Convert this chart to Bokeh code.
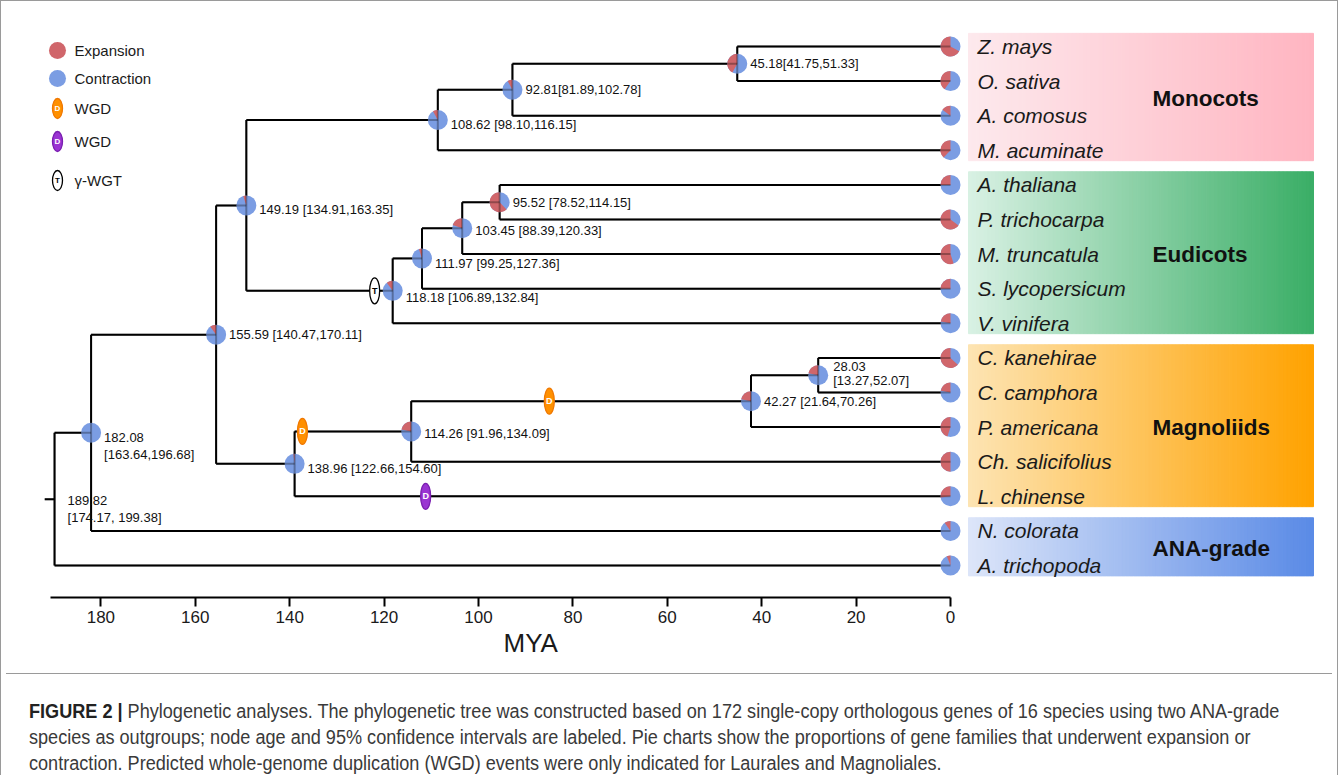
import math
from bokeh.plotting import figure
from bokeh.models import Range1d, FixedTicker, Div, Title
from bokeh.layouts import column
from bokeh.core.properties import value
from bokeh.embed import file_html
from bokeh.resources import INLINE

# ---------------- data ----------------
tips = ["Z. mays", "O. sativa", "A. comosus", "M. acuminate",
        "A. thaliana", "P. trichocarpa", "M. truncatula", "S. lycopersicum", "V. vinifera",
        "C. kanehirae", "C. camphora", "P. americana", "Ch. salicifolius", "L. chinense",
        "N. colorata", "A. trichopoda"]
tip_expansion = [0.67, 0.40, 0.15, 0.38,
                 0.25, 0.65, 0.55, 0.25, 0.22,
                 0.63, 0.22, 0.45, 0.50, 0.27,
                 0.10, 0.06]

node_ids = ["root", "n182", "n155", "n149", "n108", "n92", "n45",
            "n118", "n111", "n103", "n95", "n138", "n114", "n42", "n28"]
node_age = [189.82, 182.08, 155.59, 149.19, 108.62, 92.81, 45.18,
            118.18, 111.97, 103.45, 95.52, 138.96, 114.26, 42.27, 28.03]
node_children = [("n182", "A. trichopoda"), ("n155", "N. colorata"), ("n149", "n138"),
                 ("n108", "n118"), ("n92", "M. acuminate"), ("n45", "A. comosus"),
                 ("Z. mays", "O. sativa"), ("n111", "V. vinifera"), ("n103", "S. lycopersicum"),
                 ("n95", "M. truncatula"), ("A. thaliana", "P. trichocarpa"),
                 ("n114", "L. chinense"), ("n42", "Ch. salicifolius"), ("n28", "P. americana"),
                 ("C. kanehirae", "C. camphora")]
node_label = ["189.82\n[174.17, 199.38]", "182.08\n[163.64,196.68]", "155.59 [140.47,170.11]",
              "149.19 [134.91,163.35]", "108.62 [98.10,116.15]", "92.81[81.89,102.78]",
              "45.18[41.75,51.33]", "118.18 [106.89,132.84]", "111.97 [99.25,127.36]",
              "103.45 [88.39,120.33]", "95.52 [78.52,114.15]", "138.96 [122.66,154.60]",
              "114.26 [91.96,134.09]", "42.27 [21.64,70.26]", "28.03\n[13.27,52.07]"]
node_expansion = [None, 0.0, 0.10, 0.05, 0.08, 0.08, 0.42,
                  0.10, 0.05, 0.20, 0.62, 0.02, 0.22, 0.22, 0.22]
root_stem_age = 191.9

wgd_age = [137.3, 85.0, 111.2, 122.0]
wgd_branch = ["n114", "n42", "L. chinense", "n118"]
wgd_kind = ["WGD", "WGD", "WGD2", "WGT"]

clade_names = ["Monocots", "Eudicots", "Magnoliids", "ANA-grade"]
clade_first = ["Z. mays", "A. thaliana", "C. kanehirae", "N. colorata"]
clade_last = ["M. acuminate", "V. vinifera", "L. chinense", "A. trichopoda"]

legend_labels = ["Expansion", "Contraction", "WGD", "WGD", "\u03b3-WGT"]
legend_kinds = ["EXP", "CON", "WGD", "WGD2", "WGT"]

axis_ticks = [0, 20, 40, 60, 80, 100, 120, 140, 160, 180]
axis_title = "MYA"

caption_head = "FIGURE 2 |"
caption_lines = [
    "Phylogenetic analyses. The phylogenetic tree was constructed based on 172 single-copy orthologous genes of 16 species using two ANA-grade",
    "species as outgroups; node age and 95% confidence intervals are labeled. Pie charts show the proportions of gene families that underwent expansion or",
    "contraction. Predicted whole-genome duplication (WGD) events were only indicated for Laurales and Magnoliales.",
]

# ---------------- layout / style ----------------
X0_PX, PX_PER_MYA = 950.0, 4.72
Y0_PX, PX_PER_TIP = 46.0, 34.6
def px2mya(px):
    return (X0_PX - px) / PX_PER_MYA
def py2idx(py):
    return (py - Y0_PX) / PX_PER_TIP

ORIGIN = 0
FIG_W, BOTTOM = 1326, 71
FRAME_L, FRAME_T = ORIGIN + 1, ORIGIN + 1
FRAME_R, FRAME_B = FRAME_L + FIG_W, 597
FIG_H = FRAME_B - FRAME_T + BOTTOM
CAP_H = 104

RED = "#d0666b"
BLUE = "#7b9de3"
FONT = value("Liberation Sans")

clade_grad = {
    "Monocots": ("#fde9ed", "#ffb5c1"),
    "Eudicots": ("#d9f1e4", "#3aae66"),
    "Magnoliids": ("#fde4b3", "#ffa200"),
    "ANA-grade": ("#dde6f9", "#5a8ae6"),
}
wgd_style = {
    "WGD": ("#ff9000", "#f07800", "D", "white"),
    "WGD2": ("#9a34d2", "#7a1fb0", "D", "white"),
    "WGT": ("white", "black", "T", "black"),
}

# ---------------- tree geometry ----------------
ypos = {t: float(i) for i, t in enumerate(tips)}
age = {t: 0.0 for t in tips}
age.update(dict(zip(node_ids, node_age)))
children = dict(zip(node_ids, node_children))

def y_of(n):
    if n not in ypos:
        a, b = children[n]
        ypos[n] = (y_of(a) + y_of(b)) / 2.0
    return ypos[n]
for n in node_ids:
    y_of(n)

sx0, sy0, sx1, sy1 = [], [], [], []
for n in node_ids:
    a, b = children[n]
    sx0.append(age[n]); sy0.append(ypos[a]); sx1.append(age[n]); sy1.append(ypos[b])
    for c in (a, b):
        sx0.append(age[n]); sy0.append(ypos[c]); sx1.append(age[c]); sy1.append(ypos[c])
sx0.append(root_stem_age); sy0.append(ypos["root"]); sx1.append(age["root"]); sy1.append(ypos["root"])

p = figure(width=FIG_W, height=FIG_H, output_backend="svg", toolbar_location=None,
           x_range=Range1d(px2mya(FRAME_L), px2mya(FRAME_R)),
           y_range=Range1d(py2idx(FRAME_B), py2idx(FRAME_T)),
           y_axis_location=None, min_border=0, min_border_bottom=BOTTOM,
           background_fill_color="white", border_fill_color="white")
p.outline_line_color = None
p.xgrid.visible = False
p.ygrid.visible = False

# clade gradient boxes
box_l, box_r = px2mya(968), px2mya(1313)
NSTRIP = 90
for name, f, l in zip(clade_names, clade_first, clade_last):
    c1, c2 = clade_grad[name]
    r1, g1, b1 = int(c1[1:3], 16), int(c1[3:5], 16), int(c1[5:7], 16)
    r2, g2, b2 = int(c2[1:3], 16), int(c2[3:5], 16), int(c2[5:7], 16)
    lefts, rights, cols = [], [], []
    for i in range(NSTRIP):
        t = (i + 0.5) / NSTRIP
        lefts.append(box_l + (box_r - box_l) * i / NSTRIP)
        rights.append(box_l + (box_r - box_l) * (i + 1) / NSTRIP)
        cols.append("#%02x%02x%02x" % (round(r1 + (r2 - r1) * t), round(g1 + (g2 - g1) * t), round(b1 + (b2 - b1) * t)))
    top, bot = ypos[f] - 0.38, ypos[l] + 0.3
    p.quad(left=lefts, right=rights, top=[top] * NSTRIP, bottom=[bot] * NSTRIP,
           fill_color=cols, line_color=cols, line_width=1)
    p.text(x=[px2mya(1152)], y=[(ypos[f] + ypos[l]) / 2.0], text=[name],
           text_font=FONT, text_font_size="22.5px", text_font_style="bold",
           text_color="#111111", text_align="left", text_baseline="middle")

# tree lines
p.segment(x0=sx0, y0=sy0, x1=sx1, y1=sy1, line_color="black", line_width=2)

# pies
px_, py_, fr_ = [], [], []
for t, f in zip(tips, tip_expansion):
    px_.append(age[t]); py_.append(ypos[t]); fr_.append(f)
for n, f in zip(node_ids, node_expansion):
    if f is None:
        continue
    px_.append(age[n]); py_.append(ypos[n]); fr_.append(f)
p.scatter(x=px_, y=py_, size=20, marker="circle", fill_color=BLUE, line_color=None)
wx = [x for x, f in zip(px_, fr_) if f > 0]
wy = [y for y, f in zip(py_, fr_) if f > 0]
wf = [f for f in fr_ if f > 0]
p.wedge(x=wx, y=wy, radius=10, radius_units="screen",
        start_angle=[math.pi / 2] * len(wf),
        end_angle=[math.pi / 2 + 2 * math.pi * f for f in wf],
        direction="anticlock", fill_color=RED, line_color=None)
p.segment(x0=sx0, y0=sy0, x1=sx1, y1=sy1, line_color="black", line_width=2, line_alpha=0.3)

# WGD events
for a, br, k in zip(wgd_age, wgd_branch, wgd_kind):
    fc, lc, letter, tc = wgd_style[k]
    p.ellipse(x=[a], y=[ypos[br]], width=10, height=26, width_units="screen", height_units="screen",
              fill_color=fc, line_color=lc, line_width=1.3)
    p.text(x=[a], y=[ypos[br]], text=[letter], text_font=FONT, text_font_size="9px",
           text_font_style="bold", text_color=tc, text_align="center", text_baseline="middle")

# node labels
lab_dy = {"n108": 4, "n149": 4, "n111": 5, "n118": 7, "n138": 5, "n103": 2, "n114": 2}
two_dy = {"root": -6, "n182": -3, "n28": -16}
for n, lab in zip(node_ids, node_label):
    if "\n" in lab:
        p.text(x=[age[n]], y=[ypos[n]], text=[lab], x_offset=13 if n != "n28" else 15,
               y_offset=two_dy[n],
               text_font=FONT, text_font_size="13px", text_color="#111111",
               text_align="left", text_baseline="top",
               text_line_height=0.95 if n == "n28" else 1.15)
    else:
        p.text(x=[age[n]], y=[ypos[n]], text=[lab], x_offset=13, y_offset=lab_dy.get(n, 0),
               text_font=FONT, text_font_size="13px", text_color="#111111",
               text_align="left", text_baseline="middle")

# tip labels
p.text(x=[0.0] * len(tips), y=[ypos[t] for t in tips], text=tips, x_offset=27,
       text_font=FONT, text_font_size="21px", text_font_style="italic", text_color="#1a1a1a",
       text_align="left", text_baseline="middle")

# legend
leg_rows_py = [50, 78, 108, 141, 180]
lx, ltx = px2mya(57), px2mya(74)
for lab, k, py in zip(legend_labels, legend_kinds, leg_rows_py):
    ly = py2idx(py)
    if k in ("EXP", "CON"):
        p.scatter(x=[lx], y=[ly], size=17, marker="circle",
                  fill_color=RED if k == "EXP" else BLUE, line_color=None)
    else:
        fc, lc, letter, tc = wgd_style[k]
        p.ellipse(x=[lx], y=[ly], width=10, height=20, width_units="screen", height_units="screen",
                  fill_color=fc, line_color=lc, line_width=1.3)
        p.text(x=[lx], y=[ly], text=[letter], text_font=FONT, text_font_size="8px",
               text_font_style="bold", text_color=tc, text_align="center", text_baseline="middle")
    p.text(x=[ltx], y=[ly], text=[lab], text_font=FONT, text_font_size="15px",
           text_color="#1a1a1a", text_align="left", text_baseline="middle")

# axis
ax = p.xaxis[0]
ax.ticker = FixedTicker(ticks=axis_ticks)
ax.bounds = (0, px2mya(50))
ax.axis_line_width = 2
ax.axis_line_color = "black"
ax.major_tick_line_width = 2
ax.major_tick_line_color = "black"
ax.major_tick_in = 0
ax.major_tick_out = 9
ax.minor_tick_line_color = None
ax.major_label_standoff = 4
ax.major_label_text_font = "Liberation Sans"
ax.major_label_text_font_size = "17px"
ax.major_label_text_color = "#1a1a1a"

mya_title = Title(text=axis_title, align="left", offset=503 - FRAME_L, standoff=0,
                  text_font="Liberation Sans", text_font_size="26px",
                  text_font_style="normal", text_color="#1a1a1a")
p.add_layout(mya_title, "below")

caption_html = (
    '<div style="box-sizing:border-box;width:%dpx;height:%dpx;overflow:hidden;border-top:1px solid #9a9a9a;'
    'padding:24px 0 0 23px;">'
    '<div style="transform:scaleX(0.905);transform-origin:0 0;white-space:nowrap;'
    'font-family:Liberation Sans,sans-serif;font-size:20px;line-height:26px;color:#3a3a3a">'
    '<b style="color:#222">%s</b> %s<br>%s<br>%s</div></div>'
    % (FIG_W, CAP_H, caption_head, caption_lines[0], caption_lines[1], caption_lines[2])
)
cap = Div(text=caption_html, width=FIG_W, height=CAP_H)

layout = column(p, cap, styles={"border": "1px solid #9a9a9a"})
open("out.html", "w").write(file_html(layout, INLINE))
